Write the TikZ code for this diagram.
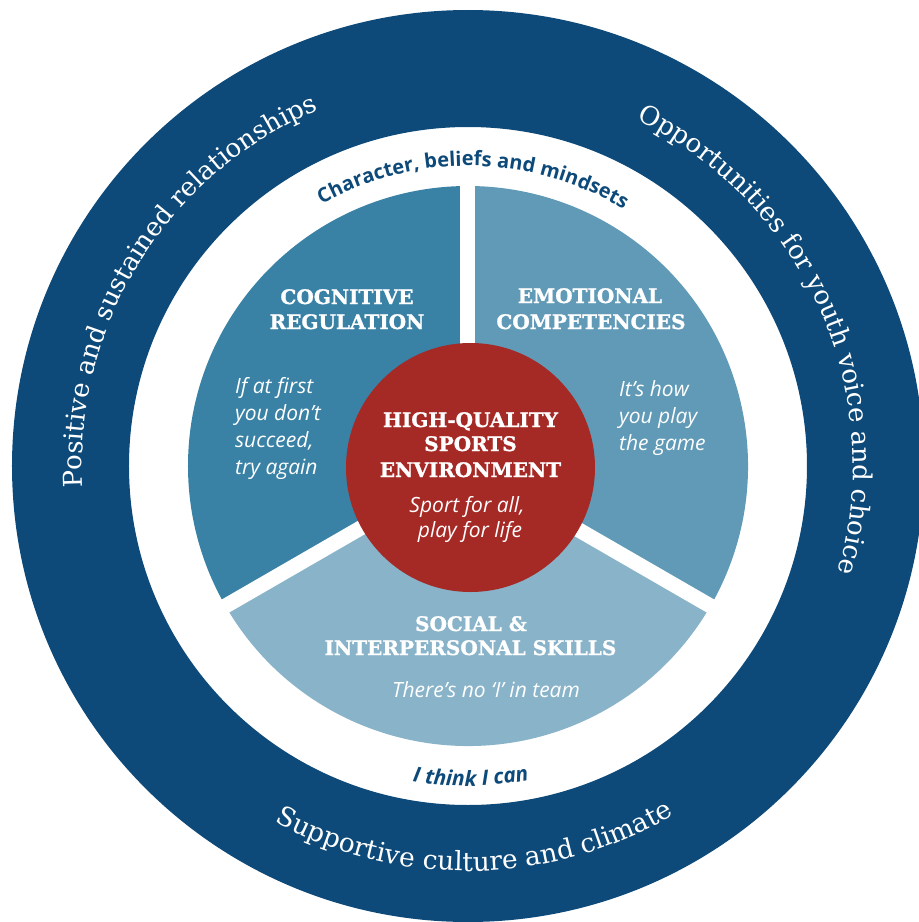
\documentclass[tikz,border=0pt]{standalone}
\usepackage{fontspec}
\usetikzlibrary{decorations.text}
\newfontfamily\slabfont{DejaVu Serif}
\newfontfamily\headfont{DejaVu Serif}[BoldFeatures={FakeBold=1.2}]
\newfontfamily\osans{Open Sans}
\definecolor{navy}{HTML}{0D4A79}
\definecolor{cogc}{HTML}{3A82A5}
\definecolor{emoc}{HTML}{609AB7}
\definecolor{socc}{HTML}{88B3C9}
\definecolor{redc}{HTML}{A52925}
\begin{document}
\begin{tikzpicture}[x=1pt, y=1pt,
  head/.style={font=\headfont\bfseries\fontsize{20}{24}\selectfont, text=white, anchor=base, inner sep=0pt},
  quote/.style={font=\osans\itshape\fontsize{21}{27}\selectfont, text=white, anchor=base, inner sep=0pt},
  quotel/.style={quote, anchor=base west},
  gap/.style={white, line width=15pt}
]
\useasboundingbox (-468,-456) rectangle (451,466);
% outer ring
\fill[navy, even odd rule] (0,0) circle[radius=456] (0,0) circle[radius=339];
% sectors
\fill[cogc] (0,0) -- (90:280) arc[start angle=90, end angle=210, radius=280] -- cycle;
\fill[emoc] (0,0) -- (-30:280) arc[start angle=-30, end angle=90, radius=280] -- cycle;
\fill[socc] (0,0) -- (210:280) arc[start angle=210, end angle=330, radius=280] -- cycle;
\coordinate (c) at (0,0);
\coordinate (g1) at (90:286);
\coordinate (g2) at (210:286);
\coordinate (g3) at (330:286);
\draw[gap] (c) -- (g1);
\draw[gap] (c) -- (g2);
\draw[gap] (c) -- (g3);
% centre
\node[circle, fill=redc, minimum size=249pt, inner sep=0pt] (env) at (2.5,-1.5) {};
% ring texts
\path[decorate, decoration={text along path, text align=center,
  text={|\slabfont\fontsize{26}{26}\selectfont\color{white}|Positive and sustained relationships}}]
  (210:386) arc[start angle=210, end angle=86, radius=386];
\path[decorate, decoration={text along path, text align=center,
  text={|\slabfont\fontsize{26}{26}\selectfont\color{white}|Opportunities for youth voice and choice}}]
  (86:385) arc[start angle=86, end angle=-38, radius=385];
\path[decorate, decoration={text along path, text align=center,
  text={|\slabfont\fontsize{26.5}{26.5}\selectfont\color{white}|Supportive culture and climate}}]
  (211:405) arc[start angle=211, end angle=331, radius=405];
\path[decorate, decoration={text along path, text align=center,
  text={|\osans\bfseries\fontsize{20}{20}\selectfont\color{navy}|Character, beliefs and mindsets}}]
  (149:300) arc[start angle=149, end angle=29, radius=300];
\path[decorate, decoration={text along path, text align=center,
  text={|\osans\bfseries\itshape\fontsize{21}{21}\selectfont\color{navy}|I think I can}}]
  (230:320) arc[start angle=230, end angle=311, radius=320];
% headings
\node[head] (cog1) at (-121,162) {COGNITIVE};
\node[head] (cog2) at (-121,137) {REGULATION};
\node[head] (emo1) at (122,163) {EMOTIONAL};
\node[head] (emo2) at (123,137) {COMPETENCIES};
\node[head] (env1) at (2.5,39) {HIGH-QUALITY};
\node[head] (env2) at (2.5,15) {SPORTS};
\node[head] (env3) at (2.5,-11) {ENVIRONMENT};
\node[head] (soc1) at (3,-165) {SOCIAL \&};
\node[head] (soc2) at (2.5,-189) {INTERPERSONAL SKILLS};
% quotes
\node[quote] (envq1) at (-1,-46) {Sport for all,};
\node[quote] (envq2) at (2,-71) {play for life};
\node[quotel] (cogq1) at (-233,73) {If at first};
\node[quotel] (cogq2) at (-233,46) {you don’t};
\node[quotel] (cogq3) at (-233,19) {succeed,};
\node[quotel] (cogq4) at (-233,-8) {try again};
\node[quotel] (emoq1) at (151,70) {It’s how};
\node[quotel] (emoq2) at (151,43) {you play};
\node[quotel] (emoq3) at (151,16) {the game};
\node[quote] (socq) at (18,-231) {There’s no ‘I’ in team};
\end{tikzpicture}
\end{document}
